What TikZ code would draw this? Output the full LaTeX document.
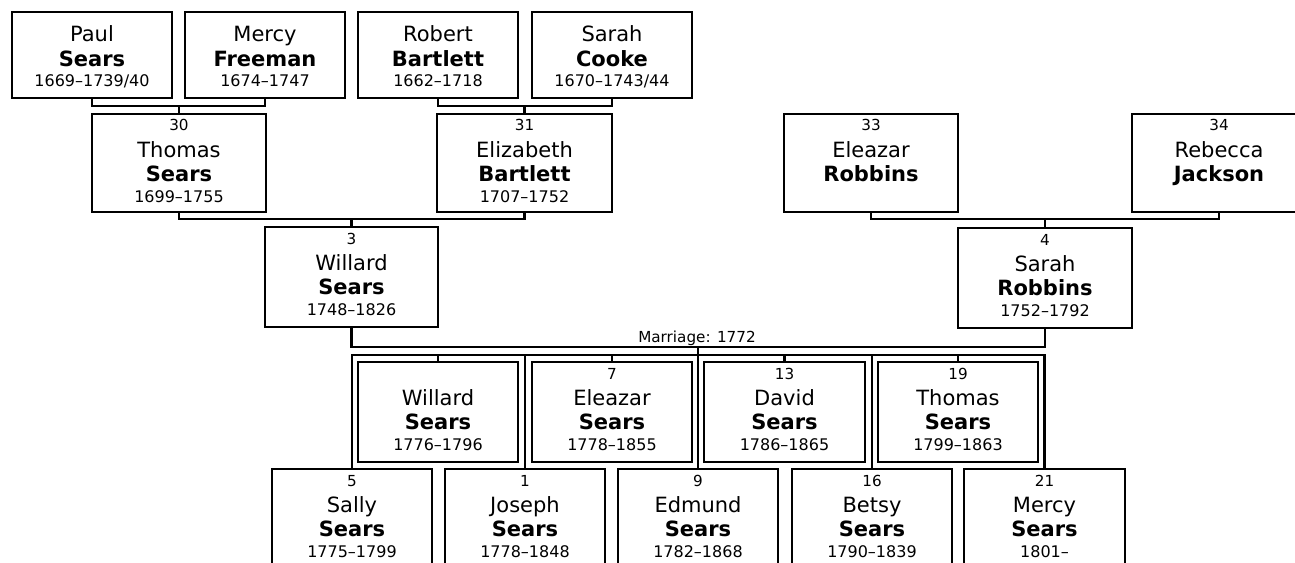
\documentclass[tikz,border=0pt]{standalone}
\usepackage{fontspec}
\setmainfont{DejaVu Sans}
\newcommand{\person}[9]{%
  \node[pbox, minimum width={(#4-#2)*0.75pt}, minimum height={(#5-#3)*0.75pt}] (#1) at (#2,#3) {};
  \node[numtxt] (#1-n) at ({(#2+#4)/2},{#3+17}) {#6};
  \node[nametxt] (#1-f) at ({(#2+#4)/2},{#3+43}) {#7};
  \node[surtxt] (#1-l) at ({(#2+#4)/2},{#3+67}) {#8};
  \node[yeartxt] (#1-y) at ({(#2+#4)/2},{#3+88}) {#9};
}
\newcommand{\elder}[8]{%
  \node[pbox, minimum width={(#4-#2)*0.75pt}, minimum height={(#5-#3)*0.75pt}] (#1) at (#2,#3) {};
  \node[nametxt] (#1-f) at ({(#2+#4)/2},{#3+30}) {#6};
  \node[surtxt] (#1-l) at ({(#2+#4)/2},{#3+55}) {#7};
  \node[yeartxt] (#1-y) at ({(#2+#4)/2},{#3+75}) {#8};
}
\begin{document}
\begin{tikzpicture}[x=0.75pt,y=-0.75pt,
  pbox/.style={draw, line width=1.8pt, inner sep=0pt, outer sep=0pt, anchor=north west, rectangle},
  conn/.style={line width=1.8pt},
  numtxt/.style={anchor=base, inner sep=0pt, font=\fontsize{11.4}{12}\selectfont},
  nametxt/.style={anchor=base, inner sep=0pt, font=\fontsize{15.75}{17}\selectfont},
  surtxt/.style={anchor=base, inner sep=0pt, font=\fontsize{15.75}{17}\selectfont\bfseries},
  yeartxt/.style={anchor=base, inner sep=0pt, font=\fontsize{12}{13}\selectfont},
  marrtxt/.style={anchor=base, inner sep=0pt, font=\fontsize{11.4}{12}\selectfont},
]
\useasboundingbox (0,0) rectangle (1295,563);
\fill[white] (0,0) rectangle (1295,563);
\clip (0,0) rectangle (1295,563);

% great-grandparents
\elder{paul}{12}{12}{172}{98}{Paul}{Sears}{1669–1739/40}
\elder{mercyf}{185}{12}{345}{98}{Mercy}{Freeman}{1674–1747}
\elder{robert}{358}{12}{518}{98}{Robert}{Bartlett}{1662–1718}
\elder{sarahc}{532}{12}{692}{98}{Sarah}{Cooke}{1670–1743/44}

% grandparents
\person{thomas30}{92}{114}{266}{212}{30}{Thomas}{Sears}{1699–1755}
\person{eliz31}{437}{114}{612}{212}{31}{Elizabeth}{Bartlett}{1707–1752}
\person{eleazar33}{784}{114}{958}{212}{33}{Eleazar}{Robbins}{}
\person{rebecca34}{1132}{114}{1306}{212}{34}{Rebecca}{Jackson}{}

% parents
\person{willard3}{265}{227}{438}{327}{3}{Willard}{Sears}{1748–1826}
\person{sarah4}{958}{228}{1132}{328}{4}{Sarah}{Robbins}{1752–1792}

% children, upper row
\person{willardc}{358}{362}{518}{462}{}{Willard}{Sears}{1776–1796}
\person{eleazar7}{532}{362}{692}{462}{7}{Eleazar}{Sears}{1778–1855}
\person{david13}{704}{362}{865}{462}{13}{David}{Sears}{1786–1865}
\person{thomas19}{878}{362}{1038}{462}{19}{Thomas}{Sears}{1799–1863}

% children, lower row
\person{sally5}{272}{469}{432}{567}{5}{Sally}{Sears}{1775–1799}
\person{joseph1}{445}{469}{605}{567}{1}{Joseph}{Sears}{1778–1848}
\person{edmund9}{618}{469}{778}{567}{9}{Edmund}{Sears}{1782–1868}
\person{betsy16}{792}{469}{952}{567}{16}{Betsy}{Sears}{1790–1839}
\person{mercy21}{964}{469}{1125}{567}{21}{Mercy}{Sears}{1801–}

% connectors
\draw[conn] (paul.south) -- ++(0,8) coordinate (j1) -| (mercyf.south);
\draw[conn] (thomas30.north) -- (thomas30.north |- j1);
\draw[conn] (robert.south) -- ++(0,8) coordinate (j2) -| (sarahc.south);
\draw[conn] (eliz31.north) -- (eliz31.north |- j2);
\draw[conn] (thomas30.south) -- ++(0,7) coordinate (j3) -| (eliz31.south);
\draw[conn] (willard3.north) -- (willard3.north |- j3);
\draw[conn] (eleazar33.south) -- ++(0,7) coordinate (j4) -| (rebecca34.south);
\draw[conn] (sarah4.north) -- (sarah4.north |- j4);

% marriage
\draw[conn] (willard3.south) -- ++(0,20) coordinate (m1) -| (sarah4.south);
\node[marrtxt] (mlabel) at (697,342) {Marriage: 1772};
\draw[conn] (edmund9.north) -- (edmund9.north |- m1);

% children frame
\coordinate (f) at (0,355);
\draw[conn] (sally5.north) -- (sally5.north |- f) -- (mercy21.north |- f) -- (mercy21.north);
\draw[conn] (joseph1.north) -- (joseph1.north |- f);
\draw[conn] (betsy16.north) -- (betsy16.north |- f);
\draw[conn] (willardc.north) -- (willardc.north |- f);
\draw[conn] (eleazar7.north) -- (eleazar7.north |- f);
\draw[conn] (david13.north) -- (david13.north |- f);
\draw[conn] (thomas19.north) -- (thomas19.north |- f);
\end{tikzpicture}
\end{document}
